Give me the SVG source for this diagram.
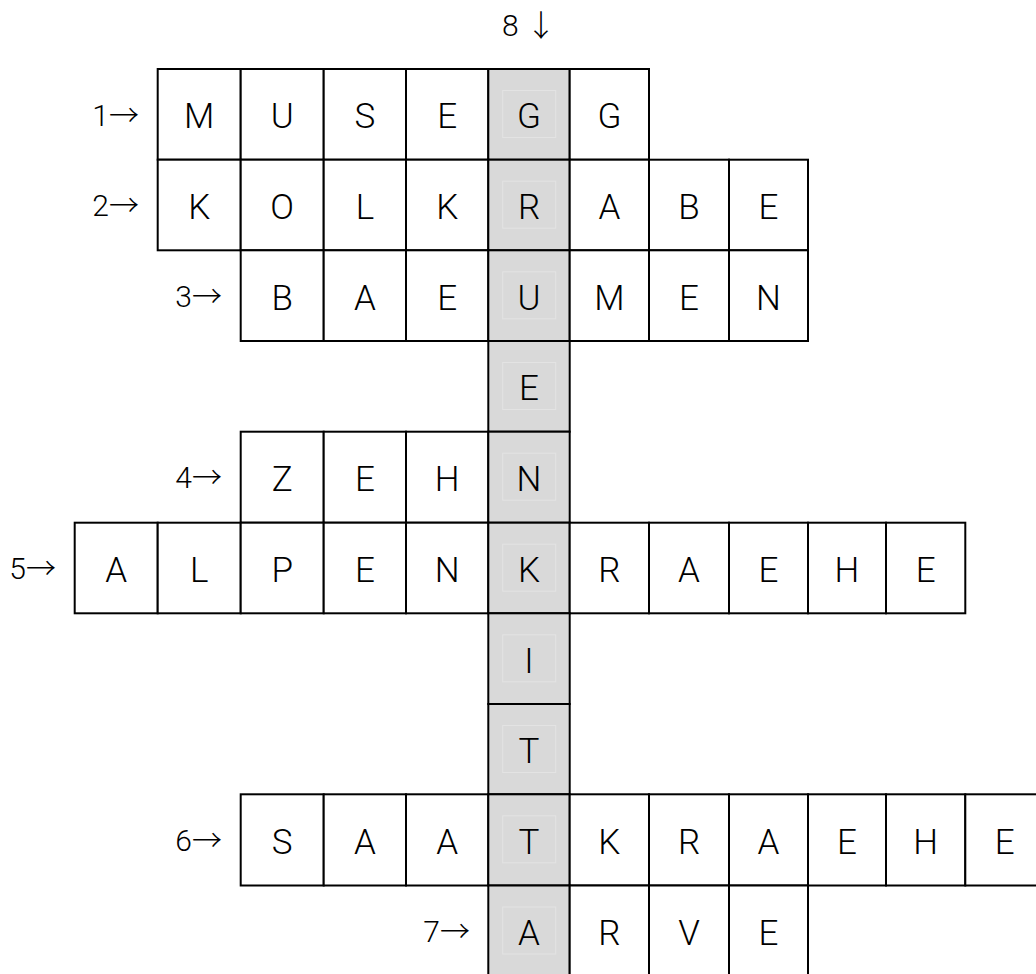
<svg xmlns="http://www.w3.org/2000/svg" width="1036" height="974" viewBox="0 0 1036 974">
<style>
.c{fill:#ffffff;stroke:#000000;stroke-width:2}
.s{fill:#d9d9d9;stroke:#000000;stroke-width:2}
.i{fill:none;stroke:#e3e3e3;stroke-width:1}
.t{font-family:Roboto,"Liberation Sans",sans-serif;font-weight:300;font-size:35px;fill:#000000;text-anchor:middle}
.l{font-family:Roboto,"Liberation Sans",sans-serif;font-weight:300;font-size:30px;fill:#000000;text-anchor:end}
.a{font-family:"Noto Sans CJK JP","DejaVu Sans",sans-serif;font-weight:300}
</style>
<rect width="1036" height="974" fill="#ffffff"/>
<g id="labels">
<text class="l" x="139" y="125.7">1<tspan class="a">→</tspan></text>
<text class="l" x="139" y="216.4">2<tspan class="a">→</tspan></text>
<text class="l" x="222" y="307">3<tspan class="a">→</tspan></text>
<text class="l" x="222" y="488.4">4<tspan class="a">→</tspan></text>
<text class="l" x="56" y="578.7">5<tspan class="a">→</tspan></text>
<text class="l" x="222" y="851">6<tspan class="a">→</tspan></text>
<text class="l" x="470" y="942">7<tspan class="a">→</tspan></text>
<text class="l" x="529" y="35.7" style="text-anchor:middle">8 <tspan class="a">↓</tspan></text>
</g>
<g id="row1">
<g id="r1c1"><rect class="c" x="157.7" y="69" width="83" height="90.7"/><text class="t" x="199.2" y="128.3">M</text></g>
<g id="r1c2"><rect class="c" x="240.7" y="69" width="83" height="90.7"/><text class="t" x="282.2" y="128.3">U</text></g>
<g id="r1c3"><rect class="c" x="323.7" y="69" width="82.3" height="90.7"/><text class="t" x="364.9" y="128.3">S</text></g>
<g id="r1c4"><rect class="c" x="406" y="69" width="82.3" height="90.7"/><text class="t" x="447.2" y="128.3">E</text></g>
<g id="r1c5"><rect class="s" x="488.3" y="69" width="81.4" height="90.7"/><rect class="i" x="502.7" y="90.5" width="53" height="47"/><text class="t" x="529" y="128.3">G</text></g>
<g id="r1c6"><rect class="c" x="569.7" y="69" width="79.3" height="90.7"/><text class="t" x="609.4" y="128.3">G</text></g>
</g>
<g id="row2">
<g id="r2c1"><rect class="c" x="157.7" y="159.7" width="83" height="90.6"/><text class="t" x="199.2" y="219">K</text></g>
<g id="r2c2"><rect class="c" x="240.7" y="159.7" width="83" height="90.6"/><text class="t" x="282.2" y="219">O</text></g>
<g id="r2c3"><rect class="c" x="323.7" y="159.7" width="82.3" height="90.6"/><text class="t" x="364.9" y="219">L</text></g>
<g id="r2c4"><rect class="c" x="406" y="159.7" width="82.3" height="90.6"/><text class="t" x="447.2" y="219">K</text></g>
<g id="r2c5"><rect class="s" x="488.3" y="159.7" width="81.4" height="90.6"/><rect class="i" x="502.7" y="181.2" width="53" height="47"/><text class="t" x="529" y="219">R</text></g>
<g id="r2c6"><rect class="c" x="569.7" y="159.7" width="79.3" height="90.6"/><text class="t" x="609.4" y="219">A</text></g>
<g id="r2c7"><rect class="c" x="649" y="159.7" width="80" height="90.6"/><text class="t" x="689" y="219">B</text></g>
<g id="r2c8"><rect class="c" x="729" y="159.7" width="79" height="90.6"/><text class="t" x="768.5" y="219">E</text></g>
</g>
<g id="row3">
<g id="r3c2"><rect class="c" x="240.7" y="250.3" width="83" height="90.7"/><text class="t" x="282.2" y="309.6">B</text></g>
<g id="r3c3"><rect class="c" x="323.7" y="250.3" width="82.3" height="90.7"/><text class="t" x="364.9" y="309.6">A</text></g>
<g id="r3c4"><rect class="c" x="406" y="250.3" width="82.3" height="90.7"/><text class="t" x="447.2" y="309.6">E</text></g>
<g id="r3c5"><rect class="s" x="488.3" y="250.3" width="81.4" height="90.7"/><rect class="i" x="502.7" y="271.8" width="53" height="47"/><text class="t" x="529" y="309.6">U</text></g>
<g id="r3c6"><rect class="c" x="569.7" y="250.3" width="79.3" height="90.7"/><text class="t" x="609.4" y="309.6">M</text></g>
<g id="r3c7"><rect class="c" x="649" y="250.3" width="80" height="90.7"/><text class="t" x="689" y="309.6">E</text></g>
<g id="r3c8"><rect class="c" x="729" y="250.3" width="79" height="90.7"/><text class="t" x="768.5" y="309.6">N</text></g>
</g>
<g id="row4">
<g id="r4c5"><rect class="s" x="488.3" y="341" width="81.4" height="90.7"/><rect class="i" x="502.7" y="362.5" width="53" height="47"/><text class="t" x="529" y="400.3">E</text></g>
</g>
<g id="row5">
<g id="r5c2"><rect class="c" x="240.7" y="431.7" width="83" height="91"/><text class="t" x="282.2" y="491">Z</text></g>
<g id="r5c3"><rect class="c" x="323.7" y="431.7" width="82.3" height="91"/><text class="t" x="364.9" y="491">E</text></g>
<g id="r5c4"><rect class="c" x="406" y="431.7" width="82.3" height="91"/><text class="t" x="447.2" y="491">H</text></g>
<g id="r5c5"><rect class="s" x="488.3" y="431.7" width="81.4" height="91"/><rect class="i" x="502.7" y="453.2" width="53" height="47"/><text class="t" x="529" y="491">N</text></g>
</g>
<g id="row6">
<g id="r6c0"><rect class="c" x="74.7" y="522.7" width="83" height="90.6"/><text class="t" x="116.2" y="582">A</text></g>
<g id="r6c1"><rect class="c" x="157.7" y="522.7" width="83" height="90.6"/><text class="t" x="199.2" y="582">L</text></g>
<g id="r6c2"><rect class="c" x="240.7" y="522.7" width="83" height="90.6"/><text class="t" x="282.2" y="582">P</text></g>
<g id="r6c3"><rect class="c" x="323.7" y="522.7" width="82.3" height="90.6"/><text class="t" x="364.9" y="582">E</text></g>
<g id="r6c4"><rect class="c" x="406" y="522.7" width="82.3" height="90.6"/><text class="t" x="447.2" y="582">N</text></g>
<g id="r6c5"><rect class="s" x="488.3" y="522.7" width="81.4" height="90.6"/><rect class="i" x="502.7" y="544.2" width="53" height="47"/><text class="t" x="529" y="582">K</text></g>
<g id="r6c6"><rect class="c" x="569.7" y="522.7" width="79.3" height="90.6"/><text class="t" x="609.4" y="582">R</text></g>
<g id="r6c7"><rect class="c" x="649" y="522.7" width="80" height="90.6"/><text class="t" x="689" y="582">A</text></g>
<g id="r6c8"><rect class="c" x="729" y="522.7" width="79" height="90.6"/><text class="t" x="768.5" y="582">E</text></g>
<g id="r6c9"><rect class="c" x="808" y="522.7" width="78" height="90.6"/><text class="t" x="847" y="582">H</text></g>
<g id="r6c10"><rect class="c" x="886" y="522.7" width="79.3" height="90.6"/><text class="t" x="925.7" y="582">E</text></g>
</g>
<g id="row7">
<g id="r7c5"><rect class="s" x="488.3" y="613.3" width="81.4" height="90.7"/><rect class="i" x="502.7" y="634.8" width="53" height="47"/><text class="t" x="529" y="672.6">I</text></g>
</g>
<g id="row8">
<g id="r8c5"><rect class="s" x="488.3" y="704" width="81.4" height="90.3"/><rect class="i" x="502.7" y="725.5" width="53" height="47"/><text class="t" x="529" y="763.3">T</text></g>
</g>
<g id="row9">
<g id="r9c2"><rect class="c" x="240.7" y="794.3" width="83" height="91.2"/><text class="t" x="282.2" y="853.6">S</text></g>
<g id="r9c3"><rect class="c" x="323.7" y="794.3" width="82.3" height="91.2"/><text class="t" x="364.9" y="853.6">A</text></g>
<g id="r9c4"><rect class="c" x="406" y="794.3" width="82.3" height="91.2"/><text class="t" x="447.2" y="853.6">A</text></g>
<g id="r9c5"><rect class="s" x="488.3" y="794.3" width="81.4" height="91.2"/><rect class="i" x="502.7" y="815.8" width="53" height="47"/><text class="t" x="529" y="853.6">T</text></g>
<g id="r9c6"><rect class="c" x="569.7" y="794.3" width="79.3" height="91.2"/><text class="t" x="609.4" y="853.6">K</text></g>
<g id="r9c7"><rect class="c" x="649" y="794.3" width="80" height="91.2"/><text class="t" x="689" y="853.6">R</text></g>
<g id="r9c8"><rect class="c" x="729" y="794.3" width="79" height="91.2"/><text class="t" x="768.5" y="853.6">A</text></g>
<g id="r9c9"><rect class="c" x="808" y="794.3" width="78" height="91.2"/><text class="t" x="847" y="853.6">E</text></g>
<g id="r9c10"><rect class="c" x="886" y="794.3" width="79.3" height="91.2"/><text class="t" x="925.7" y="853.6">H</text></g>
<g id="r9c11"><rect class="c" x="965.3" y="794.3" width="79" height="91.2"/><text class="t" x="1004.7" y="853.6">E</text></g>
</g>
<g id="row10">
<g id="r10c5"><rect class="s" x="488.3" y="885.5" width="81.4" height="91"/><rect class="i" x="502.7" y="907" width="53" height="47"/><text class="t" x="529" y="944.8">A</text></g>
<g id="r10c6"><rect class="c" x="569.7" y="885.5" width="79.3" height="91"/><text class="t" x="609.4" y="944.8">R</text></g>
<g id="r10c7"><rect class="c" x="649" y="885.5" width="80" height="91"/><text class="t" x="689" y="944.8">V</text></g>
<g id="r10c8"><rect class="c" x="729" y="885.5" width="79" height="91"/><text class="t" x="768.5" y="944.8">E</text></g>
</g>
<g id="connectors"/>
</svg>
